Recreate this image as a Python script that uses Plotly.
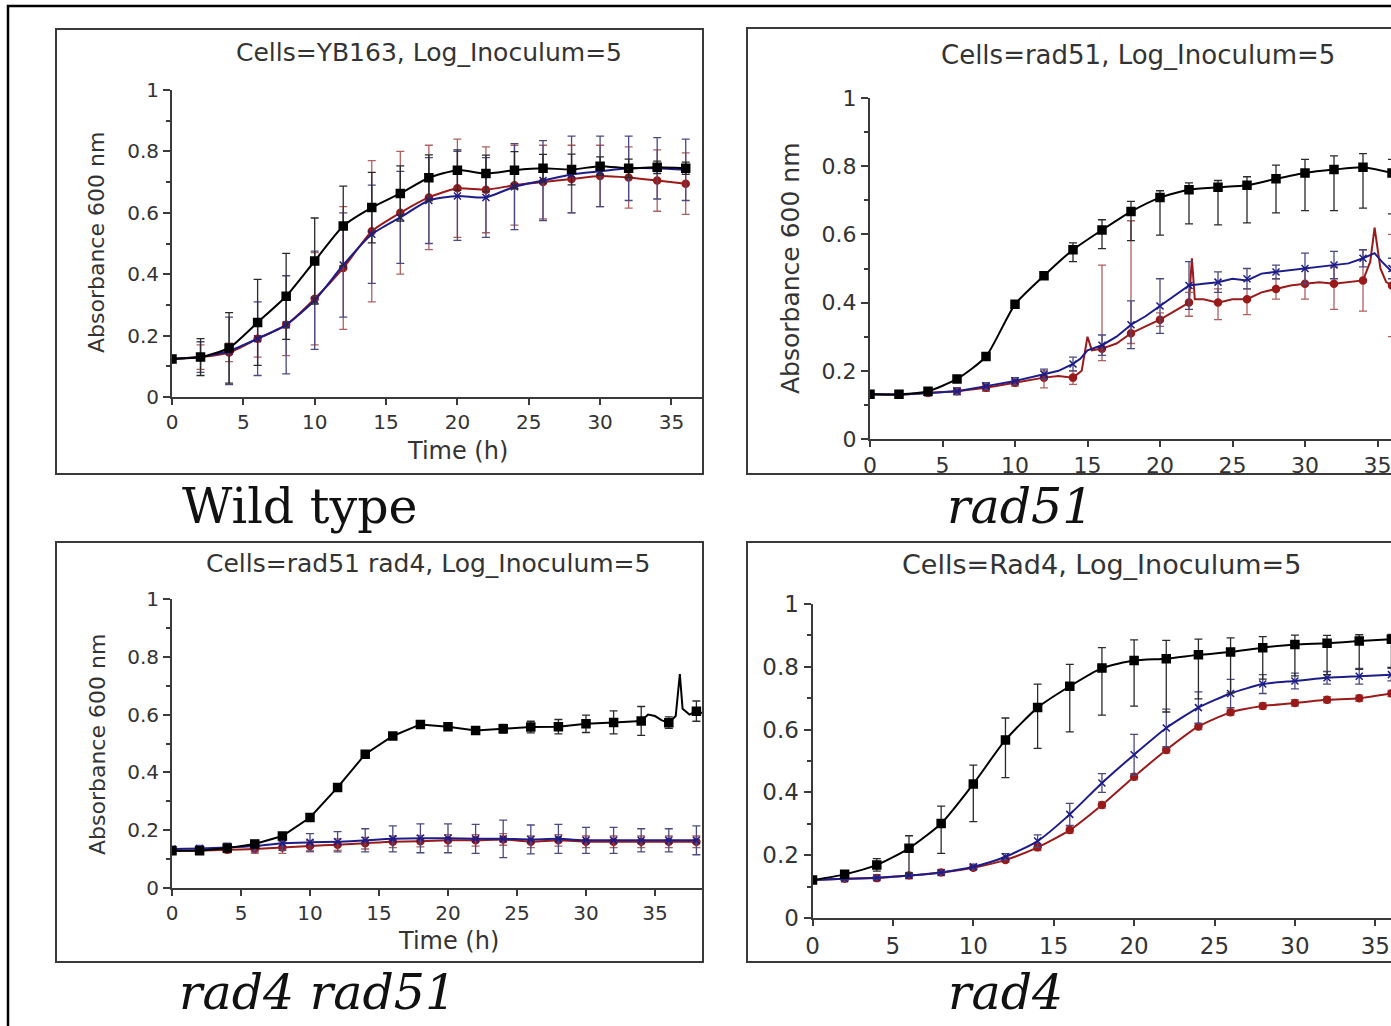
import plotly.graph_objects as go

W, H = 1391, 1026

# ---------------- data ----------------
t36 = [0, 2, 4, 6, 8, 10, 12, 14, 16, 18, 20, 22, 24, 26, 28, 30, 32, 34, 36]
t38 = [0, 2, 4, 6, 8, 10, 12, 14, 16, 18, 20, 22, 24, 26, 28, 30, 32, 34, 36, 38]

# Panel 1: Wild type (YB163)
wt_black = [0.124, 0.13, 0.16, 0.243, 0.328, 0.443, 0.557, 0.617, 0.663, 0.714, 0.739, 0.728, 0.739, 0.745, 0.741, 0.752, 0.745, 0.748, 0.745]
wt_black_err = [0.01, 0.06, 0.115, 0.14, 0.14, 0.14, 0.13, 0.115, 0.09, 0.075, 0.066, 0.06, 0.06, 0.045, 0.05, 0.03, 0.03, 0.02, 0.02]
wt_blue = [0.124, 0.13, 0.15, 0.19, 0.235, 0.315, 0.43, 0.53, 0.585, 0.64, 0.655, 0.65, 0.685, 0.705, 0.725, 0.735, 0.745, 0.745, 0.74]
wt_blue_err = [0.01, 0.05, 0.11, 0.12, 0.16, 0.16, 0.17, 0.16, 0.15, 0.14, 0.145, 0.13, 0.14, 0.13, 0.125, 0.115, 0.105, 0.1, 0.1]
wt_red = [0.124, 0.13, 0.145, 0.19, 0.235, 0.32, 0.42, 0.54, 0.60, 0.65, 0.68, 0.675, 0.69, 0.70, 0.71, 0.72, 0.715, 0.705, 0.695]
wt_red_err = [0.01, 0.04, 0.03, 0.06, 0.1, 0.15, 0.2, 0.23, 0.2, 0.17, 0.16, 0.14, 0.13, 0.12, 0.11, 0.1, 0.1, 0.1, 0.1]

# Panel 2: rad51
r51_black = [0.131, 0.131, 0.14, 0.176, 0.242, 0.395, 0.479, 0.555, 0.613, 0.667, 0.708, 0.731, 0.738, 0.744, 0.763, 0.78, 0.79, 0.797, 0.78]
r51_black_up = [0.005, 0.005, 0.005, 0.01, 0.01, 0.01, 0.01, 0.02, 0.03, 0.03, 0.02, 0.02, 0.02, 0.025, 0.04, 0.04, 0.04, 0.04, 0.04]
r51_black_dn = [0.005, 0.005, 0.005, 0.01, 0.01, 0.01, 0.01, 0.035, 0.055, 0.085, 0.11, 0.1, 0.11, 0.11, 0.1, 0.11, 0.12, 0.12, 0.12]
r51_blue = [0.131, 0.13, 0.135, 0.14, 0.155, 0.17, 0.19, 0.22, 0.275, 0.335, 0.39, 0.45, 0.46, 0.47, 0.49, 0.50, 0.51, 0.53, 0.50]
r51_blue_err = [0.005, 0.005, 0.005, 0.01, 0.01, 0.01, 0.015, 0.02, 0.03, 0.07, 0.08, 0.07, 0.03, 0.03, 0.02, 0.045, 0.04, 0.025, 0.03]
r51_red = [0.131, 0.13, 0.135, 0.14, 0.15, 0.165, 0.18, 0.18, 0.265, 0.31, 0.35, 0.40, 0.40, 0.41, 0.44, 0.455, 0.455, 0.465, 0.45]
r51_red_up = [0.005, 0.005, 0.005, 0.01, 0.01, 0.01, 0.02, 0.02, 0.245, 0.33, 0.02, 0.03, 0.04, 0.03, 0.03, 0.045, 0.05, 0.09, 0.15]
r51_red_dn = [0.005, 0.005, 0.005, 0.01, 0.01, 0.01, 0.03, 0.02, 0.035, 0.03, 0.02, 0.04, 0.05, 0.045, 0.03, 0.045, 0.075, 0.09, 0.15]
# continuous (noisy) readings for rad51 blue / red traces
r51_blue_line_t = [0, 2, 4, 6, 8, 10, 12, 13, 14, 14.5, 15, 16, 17, 18, 19, 20, 21, 22, 23, 24, 25, 26, 27, 28, 29, 30, 31, 32, 33, 34, 34.8, 35.3, 36]
r51_blue_line_y = [0.131, 0.13, 0.135, 0.14, 0.155, 0.17, 0.19, 0.2, 0.22, 0.235, 0.26, 0.275, 0.3, 0.335, 0.36, 0.39, 0.42, 0.45, 0.455, 0.46, 0.47, 0.465, 0.485, 0.49, 0.495, 0.50, 0.505, 0.51, 0.515, 0.53, 0.545, 0.52, 0.49]
r51_red_line_t = [0, 2, 4, 6, 8, 10, 12, 13, 14, 14.6, 15, 15.3, 16, 17, 18, 19, 20, 21, 22, 22.2, 22.4, 23, 24, 25, 26, 27, 28, 29, 30, 31, 32, 33, 34, 34.5, 34.8, 35.2, 35.6, 36]
r51_red_line_y = [0.131, 0.13, 0.135, 0.14, 0.15, 0.165, 0.18, 0.185, 0.18, 0.2, 0.3, 0.26, 0.265, 0.28, 0.31, 0.33, 0.35, 0.375, 0.40, 0.53, 0.41, 0.41, 0.40, 0.41, 0.41, 0.43, 0.44, 0.45, 0.455, 0.46, 0.455, 0.46, 0.465, 0.52, 0.62, 0.5, 0.46, 0.45]

# Panel 3: rad51 rad4
d_black = [0.129, 0.129, 0.138, 0.152, 0.18, 0.244, 0.348, 0.463, 0.526, 0.566, 0.558, 0.545, 0.551, 0.557, 0.558, 0.568, 0.573, 0.578, 0.572, 0.612]
d_black_err = [0.008, 0.005, 0.005, 0.008, 0.01, 0.008, 0.008, 0.008, 0.008, 0.008, 0.01, 0.01, 0.015, 0.02, 0.025, 0.03, 0.04, 0.05, 0.02, 0.035]
d_blue = [0.135, 0.137, 0.14, 0.145, 0.155, 0.158, 0.16, 0.165, 0.17, 0.172, 0.172, 0.17, 0.17, 0.168, 0.17, 0.165, 0.165, 0.165, 0.165, 0.165]
d_blue_err = [0.01, 0.01, 0.015, 0.02, 0.025, 0.03, 0.035, 0.04, 0.045, 0.05, 0.05, 0.05, 0.065, 0.05, 0.05, 0.045, 0.045, 0.04, 0.04, 0.05]
d_red = [0.128, 0.13, 0.132, 0.135, 0.14, 0.145, 0.15, 0.155, 0.16, 0.162, 0.165, 0.165, 0.168, 0.16, 0.165, 0.16, 0.16, 0.16, 0.16, 0.16]
d_red_err = [0.008, 0.008, 0.01, 0.015, 0.02, 0.02, 0.02, 0.02, 0.02, 0.02, 0.02, 0.02, 0.02, 0.02, 0.02, 0.02, 0.02, 0.02, 0.02, 0.02]
d_black_line_t = [0, 2, 4, 6, 8, 10, 12, 14, 16, 18, 20, 22, 24, 26, 28, 30, 32, 34, 34.5, 35, 35.5, 36, 36.5, 36.8, 37.0, 37.5, 38, 38.4]
d_black_line_y = [0.129, 0.129, 0.138, 0.152, 0.18, 0.244, 0.348, 0.463, 0.526, 0.566, 0.558, 0.545, 0.551, 0.557, 0.558, 0.568, 0.573, 0.578, 0.60, 0.595, 0.58, 0.572, 0.595, 0.74, 0.62, 0.60, 0.612, 0.605]

# Panel 4: rad4
r4_black = [0.121, 0.139, 0.169, 0.222, 0.301, 0.427, 0.567, 0.67, 0.738, 0.796, 0.82, 0.826, 0.838, 0.847, 0.861, 0.871, 0.875, 0.882, 0.888]
r4_black_up = [0.01, 0.01, 0.02, 0.04, 0.055, 0.06, 0.07, 0.075, 0.07, 0.065, 0.066, 0.058, 0.05, 0.045, 0.035, 0.03, 0.025, 0.02, 0.015]
r4_black_dn = [0.01, 0.01, 0.02, 0.08, 0.095, 0.12, 0.12, 0.13, 0.145, 0.15, 0.145, 0.17, 0.14, 0.13, 0.1, 0.1, 0.1, 0.09, 0.09]
r4_blue = [0.121, 0.125, 0.128, 0.135, 0.145, 0.163, 0.195, 0.245, 0.33, 0.43, 0.52, 0.605, 0.67, 0.715, 0.745, 0.755, 0.765, 0.77, 0.775]
r4_blue_err = [0.005, 0.005, 0.005, 0.005, 0.005, 0.008, 0.01, 0.02, 0.035, 0.03, 0.065, 0.06, 0.05, 0.045, 0.03, 0.025, 0.02, 0.025, 0.02]
r4_red = [0.121, 0.125, 0.127, 0.135, 0.145, 0.16, 0.185, 0.225, 0.28, 0.36, 0.45, 0.535, 0.61, 0.655, 0.675, 0.685, 0.695, 0.70, 0.715]
r4_red_err = [0.005, 0.005, 0.005, 0.005, 0.005, 0.005, 0.008, 0.01, 0.01, 0.01, 0.01, 0.01, 0.01, 0.01, 0.01, 0.01, 0.01, 0.01, 0.01]

titles = ["Cells=YB163, Log_Inoculum=5", "Cells=rad51, Log_Inoculum=5",
          "Cells=rad51 rad4, Log_Inoculum=5", "Cells=Rad4, Log_Inoculum=5"]
captions = ["Wild type", "rad51", "rad4 rad51", "rad4"]
y_ticks = [0, 0.2, 0.4, 0.6, 0.8, 1]
y_tick_text = ["0", "0.2", "0.4", "0.6", "0.8", "1"]
x_ticks = [0, 5, 10, 15, 20, 25, 30, 35]

# ---------------- style ----------------
BLACK = "#000000"
BLUE = "#1c1c8a"
RED = "#9a1a1a"
AXC = "#3a3a3a"
SANS = "DejaVu Sans"
SERIF = "DejaVu Serif"


def px(x):
    return x / W


def py(y):
    return 1 - y / H


fig = go.Figure()


def add_series(n, t, y, up, dn, color, symbol, msize, ebcolor, line_t=None, line_y=None, smooth=True):
    xa = "x" if n == 1 else f"x{n}"
    ya = "y" if n == 1 else f"y{n}"
    lt = t if line_t is None else line_t
    ly = y if line_y is None else line_y
    fig.add_trace(go.Scatter(
        x=lt, y=ly, mode="lines", xaxis=xa, yaxis=ya,
        line=dict(color=color, width=2, shape="spline" if smooth else "linear", smoothing=0.6),
        showlegend=False, hoverinfo="skip", cliponaxis=True))
    fig.add_trace(go.Scatter(
        x=t, y=y, mode="markers", xaxis=xa, yaxis=ya,
        marker=dict(color=color, symbol=symbol, size=msize,
                    line=dict(color=color, width=1.5)),
        error_y=dict(type="data", symmetric=False, array=up, arrayminus=dn,
                     color=ebcolor, thickness=1.3, width=4),
        showlegend=False, cliponaxis=True))


EB_BLACK = "#2a2a2a"
EB_BLUE = "#4a4a80"
EB_RED = "#b06060"

# Panel 1
add_series(1, t36, wt_red, wt_red_err, wt_red_err, RED, "circle", 7, EB_RED)
add_series(1, t36, wt_blue, wt_blue_err, wt_blue_err, BLUE, "x-thin", 7, EB_BLUE)
add_series(1, t36, wt_black, wt_black_err, wt_black_err, BLACK, "square", 8, EB_BLACK)
# Panel 2
add_series(2, t36, r51_red, r51_red_up, r51_red_dn, RED, "circle", 7, EB_RED, r51_red_line_t, r51_red_line_y, smooth=False)
add_series(2, t36, r51_blue, r51_blue_err, r51_blue_err, BLUE, "x-thin", 7, EB_BLUE, r51_blue_line_t, r51_blue_line_y, smooth=False)
add_series(2, t36, r51_black, r51_black_up, r51_black_dn, BLACK, "square", 8, EB_BLACK)
# Panel 3
add_series(3, t38, d_red, d_red_err, d_red_err, RED, "circle", 7, EB_RED)
add_series(3, t38, d_blue, d_blue_err, d_blue_err, BLUE, "x-thin", 7, EB_BLUE)
add_series(3, t38, d_black, d_black_err, d_black_err, BLACK, "square", 8, EB_BLACK, d_black_line_t, d_black_line_y, smooth=False)
# Panel 4
add_series(4, t36, r4_red, r4_red_err, r4_red_err, RED, "circle", 7, EB_RED)
add_series(4, t36, r4_blue, r4_blue_err, r4_blue_err, BLUE, "x-thin", 7, EB_BLUE)
add_series(4, t36, r4_black, r4_black_up, r4_black_dn, BLACK, "square", 8, EB_BLACK)

# panel geometry in pixels: (x_axis_left, x_axis_right, y_zero, y_one, x_per_hour, tick_font_size)
geo = {
    1: (172, 702, 397, 90, 14.27, 20),
    2: (870, 1391, 439, 98, 14.5, 22),
    3: (172, 702, 888, 599, 13.8, 20),
    4: (812.5, 1391, 918, 604, 16.08, 23),
}

axis_common = dict(showline=True, linecolor=AXC, linewidth=2, ticks="outside",
                   tickcolor=AXC, tickwidth=1.5, showgrid=False, zeroline=False,
                   automargin=False, ticklabeloverflow="allow")

layout = dict(width=W, height=H, margin=dict(l=0, r=0, t=0, b=0, pad=0, autoexpand=False),
              paper_bgcolor="white", plot_bgcolor="rgba(0,0,0,0)", showlegend=False)

for n, (xl, xr, y0, y1, sc, fs) in geo.items():
    sfx = "" if n == 1 else str(n)
    xmax = (xr - xl) / sc
    tf = dict(family=SANS, size=fs, color="#333333")
    layout[f"xaxis{sfx}"] = dict(
        domain=[px(xl), px(xr)], range=[0, xmax], anchor=f"y{sfx}",
        tickvals=x_ticks, ticklen=6, tickfont=tf, **axis_common)
    layout[f"yaxis{sfx}"] = dict(
        domain=[py(y0), py(y1)], range=[0, 1], anchor=f"x{sfx}",
        tickvals=y_ticks, ticktext=y_tick_text, ticklen=7, tickfont=tf,
        minor=dict(tickvals=[0.1, 0.3, 0.5, 0.7, 0.9], ticklen=4, tickcolor=AXC, ticks="outside"),
        **axis_common)

fig.update_layout(**layout)

# boxes around panels and outer frame
shapes = [
    dict(type="rect", xref="paper", yref="paper", x0=px(8), x1=px(1400), y0=py(1040), y1=py(6),
         line=dict(color="#000000", width=2.5)),
]
for (x0, x1, y0, y1) in [(56, 703, 29, 474), (747, 1400, 28, 474), (56, 703, 542, 962), (747, 1400, 542, 962)]:
    shapes.append(dict(type="rect", xref="paper", yref="paper", x0=px(x0), x1=px(x1), y0=py(y1), y1=py(y0),
                       line=dict(color="#3a3a3a", width=2)))
fig.update_layout(shapes=shapes)

ann = []
for txt, (cx, cy, fs) in zip(titles, [(429, 52, 25), (1138, 55, 26), (428, 563, 25), (1101, 564, 27)]):
    ann.append(dict(text=txt, x=px(cx), y=py(cy), xref="paper", yref="paper", showarrow=False,
                    xanchor="center", yanchor="middle", font=dict(family=SANS, size=fs, color="#333333")))
for (cx, cy, sz) in [(97, 243, 22), (790, 268, 25), (97, 745, 22)]:
    ann.append(dict(text="Absorbance 600 nm", x=px(cx), y=py(cy), xref="paper", yref="paper",
                    showarrow=False, textangle=-90, xanchor="center", yanchor="middle",
                    font=dict(family=SANS, size=sz, color="#333333")))
for (cx, cy) in [(458, 451), (448, 941)]:
    ann.append(dict(text="Time (h)", x=px(cx), y=py(cy), xref="paper", yref="paper", showarrow=False,
                    xanchor="center", yanchor="middle", font=dict(family=SANS, size=24, color="#333333")))
for txt, (cx, cy), ital in zip(captions, [(300, 506), (1020, 506), (317, 992), (1005, 992)],
                               [False, True, True, True]):
    t = f"<i>{txt}</i>" if ital else txt
    ann.append(dict(text=t, x=px(cx), y=py(cy), xref="paper", yref="paper", showarrow=False,
                    xanchor="center", yanchor="middle", font=dict(family=SERIF, size=49, color="#111111")))
fig.update_layout(annotations=ann)

fig.write_html("out.html",
               post_script="document.body.style.margin='0';document.body.style.overflow='hidden';")
